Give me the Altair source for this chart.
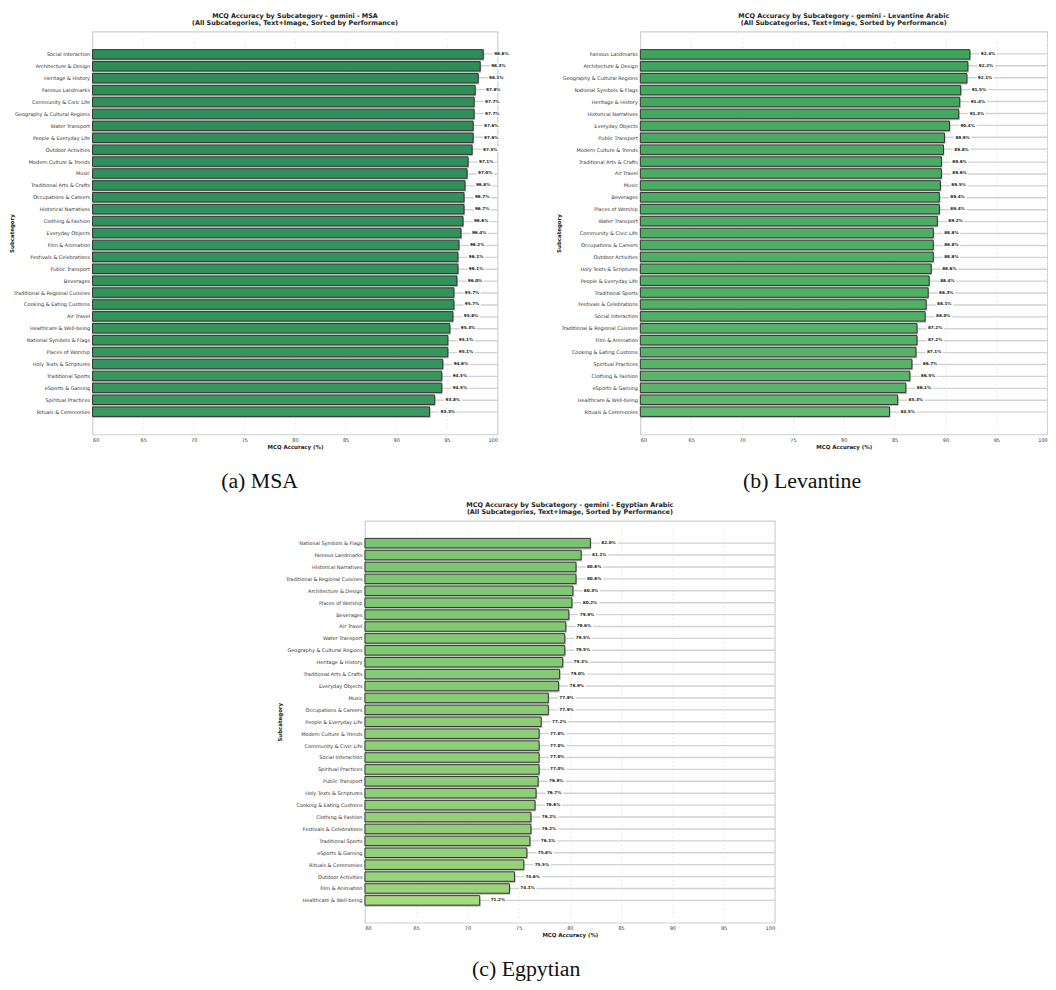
import altair as alt
import pandas as pd

# ---------------- data ----------------
msa_subcats = [
    "Social Interaction", "Architecture & Design", "Heritage & History", "Famous Landmarks",
    "Community & Civic Life", "Geography & Cultural Regions", "Water Transport",
    "People & Everyday Life", "Outdoor Activities", "Modern Culture & Trends", "Music",
    "Traditional Arts & Crafts", "Occupations & Careers", "Historical Narratives",
    "Clothing & Fashion", "Everyday Objects", "Film & Animation", "Festivals & Celebrations",
    "Public Transport", "Beverages", "Traditional & Regional Cuisines",
    "Cooking & Eating Customs", "Air Travel", "Healthcare & Well-being",
    "National Symbols & Flags", "Places of Worship", "Holy Texts & Scriptures",
    "Traditional Sports", "eSports & Gaming", "Spiritual Practices", "Rituals & Ceremonies",
]
msa_acc = [98.6, 98.3, 98.1, 97.8, 97.7, 97.7, 97.6, 97.6, 97.5, 97.1, 97.0, 96.8, 96.7, 96.7,
           96.6, 96.4, 96.2, 96.1, 96.1, 96.0, 95.7, 95.7, 95.6, 95.3, 95.1, 95.1, 94.6, 94.5,
           94.5, 93.8, 93.3]

lev_subcats = [
    "Famous Landmarks", "Architecture & Design", "Geography & Cultural Regions",
    "National Symbols & Flags", "Heritage & History", "Historical Narratives",
    "Everyday Objects", "Public Transport", "Modern Culture & Trends",
    "Traditional Arts & Crafts", "Air Travel", "Music", "Beverages", "Places of Worship",
    "Water Transport", "Community & Civic Life", "Occupations & Careers", "Outdoor Activities",
    "Holy Texts & Scriptures", "People & Everyday Life", "Traditional Sports",
    "Festivals & Celebrations", "Social Interaction", "Traditional & Regional Cuisines",
    "Film & Animation", "Cooking & Eating Customs", "Spiritual Practices",
    "Clothing & Fashion", "eSports & Gaming", "Healthcare & Well-being", "Rituals & Ceremonies",
]
lev_acc = [92.4, 92.2, 92.1, 91.5, 91.4, 91.3, 90.4, 89.9, 89.8, 89.6, 89.6, 89.5, 89.4, 89.4,
           89.2, 88.8, 88.8, 88.8, 88.6, 88.4, 88.3, 88.1, 88.0, 87.2, 87.2, 87.1, 86.7, 86.5,
           86.1, 85.3, 84.5]

egy_subcats = [
    "National Symbols & Flags", "Famous Landmarks", "Historical Narratives",
    "Traditional & Regional Cuisines", "Architecture & Design", "Places of Worship",
    "Beverages", "Air Travel", "Water Transport", "Geography & Cultural Regions",
    "Heritage & History", "Traditional Arts & Crafts", "Everyday Objects", "Music",
    "Occupations & Careers", "People & Everyday Life", "Modern Culture & Trends",
    "Community & Civic Life", "Social Interaction", "Spiritual Practices", "Public Transport",
    "Holy Texts & Scriptures", "Cooking & Eating Customs", "Clothing & Fashion",
    "Festivals & Celebrations", "Traditional Sports", "eSports & Gaming",
    "Rituals & Ceremonies", "Outdoor Activities", "Film & Animation", "Healthcare & Well-being",
]
egy_acc = [82.0, 81.1, 80.6, 80.6, 80.3, 80.2, 79.9, 79.6, 79.5, 79.5, 79.3, 79.0, 78.9, 77.9,
           77.9, 77.2, 77.0, 77.0, 77.0, 77.0, 76.9, 76.7, 76.6, 76.2, 76.2, 76.1, 75.8, 75.5,
           74.6, 74.1, 71.2]

x_ticks = [60, 65, 70, 75, 80, 85, 90, 95, 100]
color_domain = [71.2, 82.0, 84.5, 92.4, 93.3, 98.6]
color_range = ["#a7d97e", "#78c471", "#62b86e", "#3ea45c", "#389a5f", "#2e8b57"]

FONT = "DejaVu Sans"


def panel(cats, vals, dialect, caption, width, height, edge, extent):
    df = pd.DataFrame({"Subcategory": cats, "Accuracy": vals})
    df["label"] = [f"{v:.1f}%" for v in vals]

    xscale = alt.Scale(domain=[60, 100], nice=False, zero=False)
    xaxis = alt.Axis(
        values=x_ticks, grid=True, gridDash=[2, 2], gridColor="#e4e4e4", gridWidth=0.8,
        ticks=False, domain=False, labelFontSize=5, labelColor="#333333", labelPadding=3,
        title="MCQ Accuracy (%)", titleFontSize=5.5, titleFontWeight="bold",
        titleColor="#222222", titlePadding=2,
    )
    yenc = alt.Y(
        "Subcategory:N", sort=None,
        scale=alt.Scale(paddingInner=0.2, paddingOuter=1, rangeMin=edge,
                        rangeMax=height - edge),
        axis=alt.Axis(
            grid=True, gridColor="#d2d2d2", gridWidth=1.4, bandPosition=0.5,
            ticks=False, domain=False, labelFontSize=5, labelColor="#333333",
            labelPadding=3, labelLimit=200, minExtent=extent, maxExtent=extent,
            title="Subcategory", titleFontSize=5.5, titleFontWeight="bold",
            titleColor="#222222", titlePadding=3,
        ),
    )
    base = alt.Chart(df)
    shadow = base.mark_bar(color="#8a8a8a", opacity=0.55, yOffset=1.6, xOffset=1.0).encode(
        x=alt.X("Accuracy:Q", scale=xscale, axis=xaxis), x2=alt.datum(60), y=yenc
    )
    bars = base.mark_bar(stroke="#333333", strokeWidth=1).encode(
        x=alt.X("Accuracy:Q", scale=xscale, axis=xaxis), x2=alt.datum(60), y=yenc,
        color=alt.Color("Accuracy:Q", scale=alt.Scale(domain=color_domain, range=color_range),
                        legend=None),
    )
    box = base.transform_calculate(
        lo="datum.Accuracy + 0.95", hi="datum.Accuracy + 2.65"
    ).mark_bar(color="white", height=5).encode(
        x=alt.X("lo:Q", scale=xscale, axis=xaxis), x2="hi:Q", y=yenc
    )
    text = base.mark_text(
        align="left", baseline="middle", dx=11, fontSize=4.2, fontWeight="bold",
        color="#222222", font=FONT,
    ).encode(x=alt.X("Accuracy:Q", scale=xscale, axis=xaxis), y=yenc, text="label:N")

    layer = alt.layer(shadow, bars, box, text).properties(
        width=width, height=height,
        title=alt.TitleParams(
            [f"MCQ Accuracy by Subcategory - gemini - {dialect}",
             "(All Subcategories, Text+Image, Sorted by Performance)"],
            fontSize=6.5, fontWeight="bold", lineHeight=7, offset=5, anchor="middle",
            frame="group", color="#222222", font=FONT,
        ),
    )
    return alt.vconcat(
        layer, spacing=0,
        title=alt.TitleParams(
            caption, orient="bottom", anchor="middle", font="Liberation Serif",
            fontSize=22, fontWeight="normal", color="#111111", offset=21,
        ),
    )


pa = panel(msa_subcats, msa_acc, "MSA", "(a) MSA", 408, 406, 6.2, 76)
pb = panel(lev_subcats, lev_acc, "Levantine Arabic", "(b) Levantine", 410, 406, 6.2, 76)
pc = panel(egy_subcats, egy_acc, "Egyptian Arabic", "(c) Egpytian", 413, 405, 5.7, 80)

chart = alt.vconcat(
    alt.hconcat(pa, pb, spacing=45), pc, spacing=8, center=True
).properties(padding=0, background="white").configure(font=FONT).configure_view(
    stroke="#cfcfcf", strokeWidth=1.2
)

chart.save("out.html", embed_options={"renderer": "svg", "actions": False})
